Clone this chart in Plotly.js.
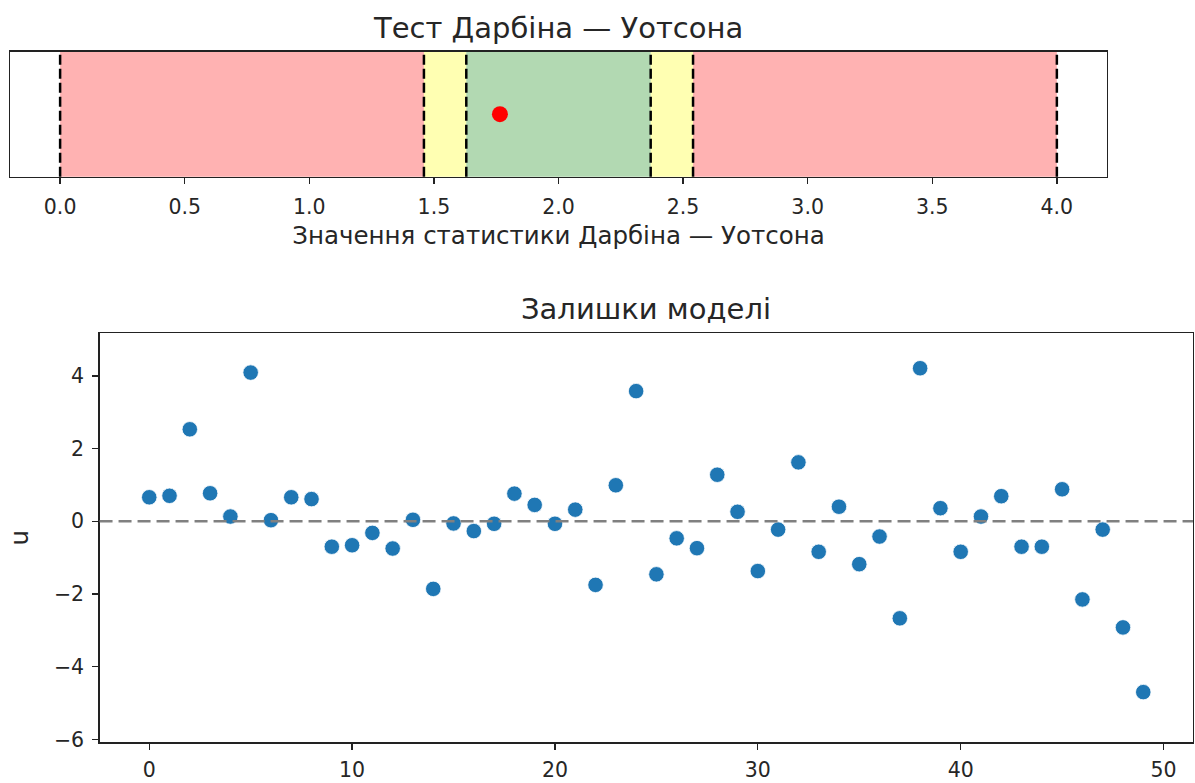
<!DOCTYPE html>
<html><head><meta charset="utf-8">
<script src="https://cdn.plot.ly/plotly-3.0.1.min.js"></script>
<style>html,body{margin:0;padding:0;background:#fff}</style>
</head><body><div id="chart" style="width:1195px;height:783px"></div>
<script>
// Durbin–Watson test values
const dwStatistic = 1.765;
const dLower = 1.46;
const dUpper = 1.63;
const dwTicks = [0.0, 0.5, 1.0, 1.5, 2.0, 2.5, 3.0, 3.5, 4.0];
const dwTickLabels = ["0.0", "0.5", "1.0", "1.5", "2.0", "2.5", "3.0", "3.5", "4.0"];

// Residuals
const obsIndex = [0,1,2,3,4,5,6,7,8,9,10,11,12,13,14,15,16,17,18,19,20,21,22,23,24,25,26,27,28,29,30,31,32,33,34,35,36,37,38,39,40,41,42,43,44,45,46,47,48,49];
const residuals = [0.66,0.70,2.53,0.77,0.13,4.09,0.03,0.66,0.61,-0.70,
                   -0.66,-0.32,-0.75,0.04,-1.86,-0.06,-0.27,-0.07,0.76,0.45,
                   -0.07,0.32,-1.75,0.99,3.58,-1.46,-0.47,-0.74,1.28,0.26,
                   -1.37,-0.23,1.62,-0.84,0.40,-1.18,-0.42,-2.67,4.21,0.36,
                   -0.84,0.13,0.69,-0.70,-0.70,0.88,-2.15,-0.23,-2.92,-4.70];
const resTicksY = [-6,-4,-2,0,2,4];
const resTicksYLabels = ["\u22126","\u22124","\u22122","0","2","4"];
const resTicksX = [0,10,20,30,40,50];

const FONT = "DejaVu Sans, sans-serif";
const TXT = "#262626";

const zoneEdges = [0, dLower, dUpper, 4 - dUpper, 4 - dLower, 4];
const zoneColors = ["rgba(255,0,0,0.3)","rgba(255,255,0,0.3)","rgba(0,128,0,0.3)","rgba(255,255,0,0.3)","rgba(255,0,0,0.3)"];

const shapes = [];
for (let i = 0; i < zoneColors.length; i++) {
  shapes.push({type:"rect", xref:"x", yref:"y domain", x0:zoneEdges[i], x1:zoneEdges[i+1], y0:0, y1:1,
    fillcolor:zoneColors[i], line:{width:0}, layer:"below"});
}
zoneEdges.forEach(e => shapes.push({type:"line", xref:"x", yref:"y domain", x0:e, x1:e, y0:0, y1:1,
  line:{color:"black", width:2.5, dash:"10px,4px"}}));
shapes.push({type:"line", xref:"x2 domain", yref:"y2", x0:0, x1:1, y0:0, y1:0,
  line:{color:"gray", width:2.5, dash:"13px,6px"}});

const traces = [
  {type:"scatter", mode:"markers", x:[dwStatistic], y:[0], xaxis:"x", yaxis:"y",
   marker:{color:"red", size:16}, hoverinfo:"x"},
  {type:"scatter", mode:"markers", x:obsIndex, y:residuals, xaxis:"x2", yaxis:"y2",
   marker:{color:"#1f77b4", size:15.5, line:{color:"white", width:0.8}}}
];

const axBase = {showgrid:false, zeroline:false, showline:true, mirror:true, linecolor:"#222", linewidth:1.3,
  ticks:"outside", ticklen:6, tickwidth:1.3, tickcolor:"#222", tickfont:{family:FONT, size:20.5, color:TXT}};

const layout = {
  width:1195, height:783, margin:{l:0,r:0,t:0,b:0},
  paper_bgcolor:"white", plot_bgcolor:"white", showlegend:false,
  font:{family:FONT, color:TXT},
  xaxis: Object.assign({}, axBase, {domain:[0.0086,0.9261], range:[-0.2,4.2], tickvals:dwTicks, ticktext:dwTickLabels,
    ticklabelstandoff:5,
    title:{text:"Значення статистики Дарбіна — Уотсона", font:{family:FONT, size:24.5, color:TXT}, standoff:9}, anchor:"y"}),
  yaxis: Object.assign({}, axBase, {domain:[0.7743,0.9340], range:[-1,1], ticks:"", showticklabels:false, anchor:"x"}),
  xaxis2: Object.assign({}, axBase, {domain:[0.0833,0.9983], range:[-2.45,51.45], tickvals:resTicksX, anchor:"y2",
    ticklabelstandoff:3}),
  yaxis2: Object.assign({}, axBase, {domain:[0.0520,0.5743], range:[-6.08,5.17], tickvals:resTicksY, ticktext:resTicksYLabels, anchor:"x2",
    ticklabelstandoff:4,
    title:{text:"u", font:{family:FONT, size:24.5, color:TXT}, standoff:18}}),
  shapes: shapes,
  annotations: [
    {text:"Тест Дарбіна — Уотсона", xref:"x domain", yref:"y domain", x:0.5, y:1, yanchor:"bottom", yshift:5,
     showarrow:false, font:{family:FONT, size:29, color:TXT}},
    {text:"Залишки моделі", xref:"x2 domain", yref:"y2 domain", x:0.5, y:1, yanchor:"bottom", yshift:5,
     showarrow:false, font:{family:FONT, size:29, color:TXT}}
  ]
};

Plotly.newPlot("chart", traces, layout, {displayModeBar:false, staticPlot:true});
</script></body></html>
